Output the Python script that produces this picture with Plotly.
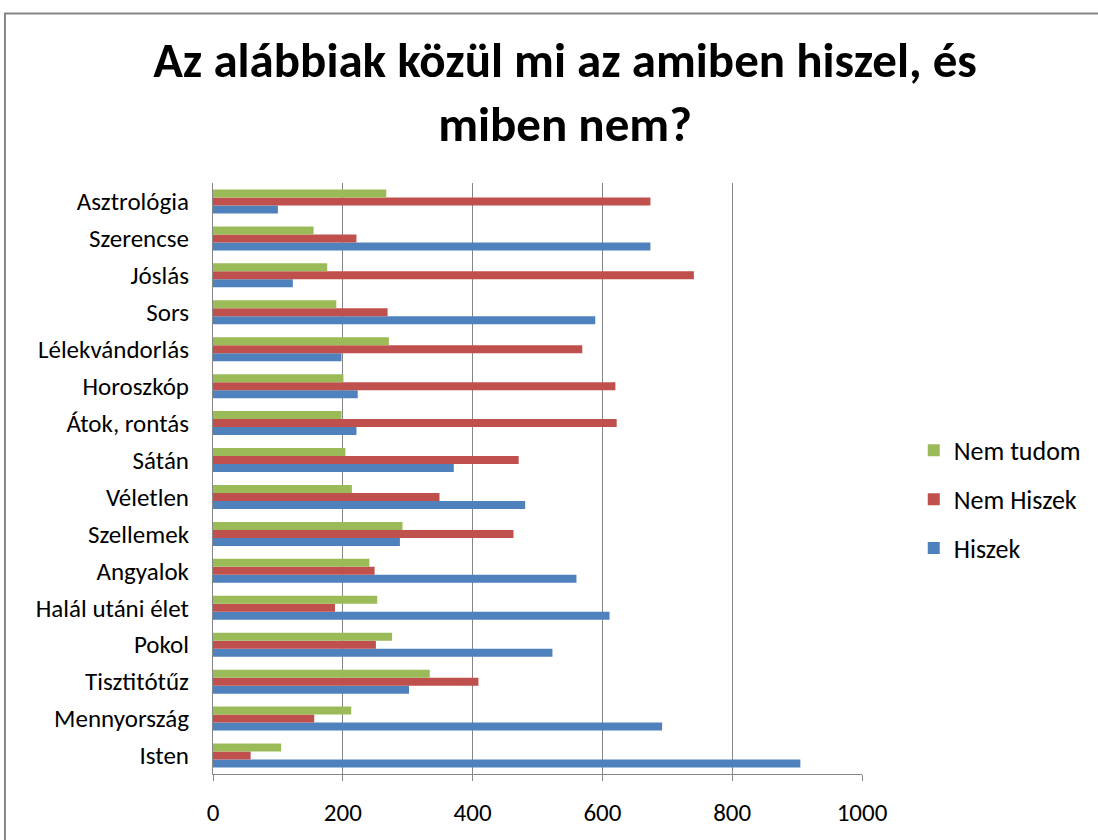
import plotly.graph_objects as go

categories = ["Isten", "Mennyország", "Tisztitótűz", "Pokol", "Halál utáni élet",
              "Angyalok", "Szellemek", "Véletlen", "Sátán", "Átok, rontás",
              "Horoszkóp", "Lélekvándorlás", "Sors", "Jóslás", "Szerencse", "Asztrológia"]

hiszek = [905, 692, 302, 523, 611, 560, 288, 481, 371, 221, 223, 198, 589, 123, 674, 100]
nem_hiszek = [58, 156, 409, 251, 188, 249, 463, 349, 471, 622, 620, 569, 269, 741, 221, 674]
nem_tudom = [105, 213, 334, 276, 253, 241, 292, 214, 204, 198, 201, 271, 190, 176, 155, 267]

x_ticks = [0, 200, 400, 600, 800, 1000]

FONT = "Calibri, Carlito, Lato, sans-serif"

fig = go.Figure()
fig.add_trace(go.Bar(y=categories, x=hiszek, name="Hiszek", orientation="h",
                     marker=dict(color="#4F81BD", line=dict(width=0)),
                     legendgroup="a", legendrank=3))
fig.add_trace(go.Bar(y=categories, x=nem_hiszek, name="Nem Hiszek", orientation="h",
                     marker=dict(color="#C0504D", line=dict(width=0)),
                     legendgroup="b", legendrank=2))
fig.add_trace(go.Bar(y=categories, x=nem_tudom, name="Nem tudom", orientation="h",
                     marker=dict(color="#9BBB59", line=dict(width=0)),
                     legendgroup="c", legendrank=1))

L, R, T, B = 213, 233, 183, 61
W, H = 1098, 840
pw, ph = W - L - R, H - T - B

def px_x(p):
    return (p - L) / pw

def px_y(p):
    return (H - B - p) / ph

fig.update_layout(
    width=W, height=H,
    margin=dict(l=L, r=R, t=T, b=B),
    paper_bgcolor="white", plot_bgcolor="white",
    barmode="group", bargap=0.35, bargroupgap=0,
    font=dict(family=FONT, color="#000000", size=20),
    title=dict(text="<b>Az alábbiak közül mi az amiben hiszel, és<br>miben nem?</b>",
               x=0.5146, xanchor="center", y=0.908, yanchor="top",
               font=dict(family=FONT, size=49, color="#000000")),
    legend=dict(x=px_x(917), y=px_y(429), xanchor="left", yanchor="top",
                traceorder="grouped", tracegroupgap=12,
                font=dict(family=FONT, size=26, color="#000000"),
                bgcolor="rgba(0,0,0,0)"),
    xaxis=dict(range=[0, 1000], tickvals=x_ticks, showgrid=True, gridcolor="#868686",
               gridwidth=1, zeroline=False, showline=True, linecolor="#868686",
               ticks="outside", ticklen=6, tickcolor="#868686",
               tickfont=dict(family=FONT, size=25, color="#000000"),
               ticklabelstandoff=10, fixedrange=True),
    yaxis=dict(categoryorder="array", categoryarray=categories, showline=True,
               linecolor="#868686", ticks="", showgrid=False,
               tickfont=dict(family=FONT, size=25, color="#000000"),
               ticklabelstandoff=18, fixedrange=True),
    shapes=[dict(type="rect", xref="paper", yref="paper",
                 x0=px_x(4), x1=px_x(1110), y0=px_y(900), y1=px_y(12),
                 line=dict(color="#868686", width=2), fillcolor="rgba(0,0,0,0)")],
)

fig.write_html("out.html", post_script="document.body.style.margin='0';",
               config={"displayModeBar": False})
